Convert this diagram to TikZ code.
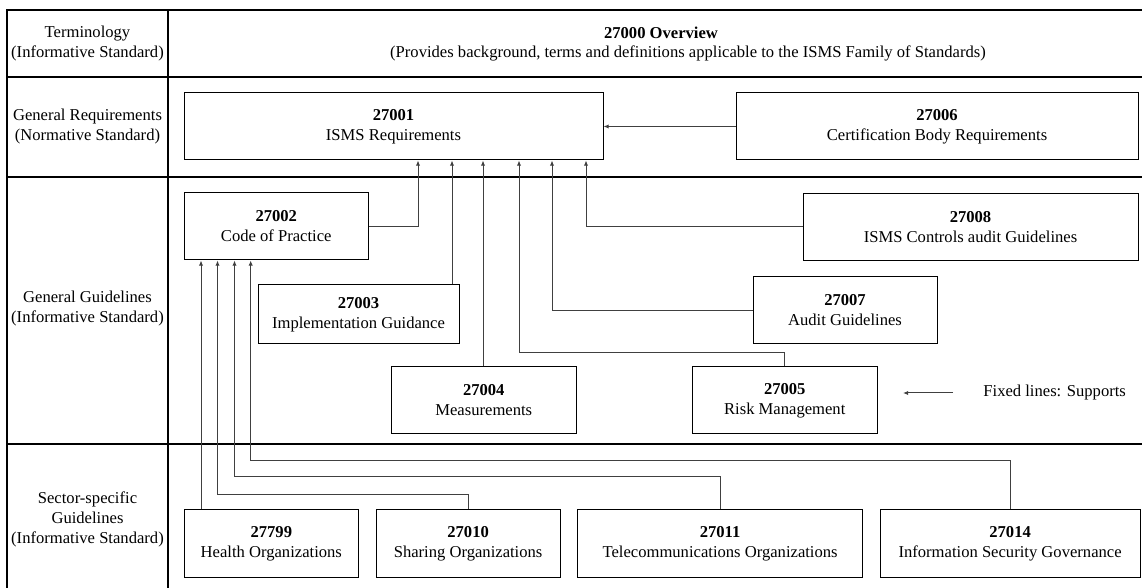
\documentclass[tikz,border=0pt]{standalone}
\usepackage{fontspec}
\setmainfont{Liberation Serif}
\usepackage{tikz}
\usetikzlibrary{positioning,arrows.meta}

\begin{document}
\begin{tikzpicture}[x=0.5pt, y=-0.5pt, node distance=8.25pt,
    every node/.style={font=\fontsize{8.3}{10}\selectfont, align=center, inner sep=0pt},
    stdbox/.style={draw, rectangle, line width=0.5pt, minimum height=33.5pt},
    rowline/.style={line width=0.9pt},
    link/.style={->, draw=black!75, line width=0.5pt},
    >={Latex[length=2.6pt,width=2.2pt]}]
    \useasboundingbox (0,0) rectangle (1142,588);

    % Define the table frame
    \draw[rowline] (1142,10) -- (7,10) -- (7,588);
    \draw[rowline] (168,10) -- (168,588);
    \draw[rowline] (7,77) -- (1142,77);
    \draw[rowline] (7,177) -- (1142,177);
    \draw[rowline] (7,444) -- (1142,444);

    % Define the row labels
    \node (lab1) at (87.5,43.5) {Terminology\\(Informative Standard)};
    \node (lab2) at (87.5,127) {General Requirements\\(Normative Standard)};
    \node (lab3) at (87.5,309) {General Guidelines\\(Informative Standard)};
    \node (lab4) at (87.5,519) {Sector-specific\\Guidelines\\(Informative Standard)};

    % Define the overview
    \node (title) at (661,33) {\textbf{27000 Overview}};
    \node (subtitle) at (688,53) {(Provides background, terms and definitions applicable to the ISMS Family of Standards)};

    % Define the boxes
    \node[stdbox, minimum width=209.5pt] (b27001) at (393.5,126.5) {\textbf{27001}\\ISMS Requirements};
    \node[stdbox, minimum width=201pt] (b27006) at (937,126.5) {\textbf{27006}\\Certification Body Requirements};
    \node[stdbox, minimum width=92.25pt] (b27002) at (276.25,226.5) {\textbf{27002}\\Code of Practice};
    \node[stdbox, minimum width=167.5pt] (b27008) at (970.5,227) {\textbf{27008}\\ISMS Controls audit Guidelines};
    \node[stdbox, minimum width=100.5pt, minimum height=29.5pt] (b27003) at (358.5,314.5) {\textbf{27003}\\Implementation Guidance};
    \node[stdbox, minimum width=92pt] (b27007) at (845,310.5) {\textbf{27007}\\Audit Guidelines};
    \node[stdbox, minimum width=92.25pt] (b27004) at (483.75,400.5) {\textbf{27004}\\Measurements};
    \node[stdbox, minimum width=92.25pt] (b27005) at (784.75,400.5) {\textbf{27005}\\Risk Management};
    \node[stdbox, minimum width=87.3pt] (b27799) at (271.3,543.5) {\textbf{27799}\\Health Organizations};
    \node[stdbox, minimum width=92pt, right=of b27799] (b27010) {\textbf{27010}\\Sharing Organizations};
    \node[stdbox, minimum width=142.5pt, right=of b27010] (b27011) {\textbf{27011}\\Telecommunications Organizations};
    \node[stdbox, minimum width=130pt, right=of b27011] (b27014) {\textbf{27014}\\Information Security Governance};

    % Define the legend
    \node[anchor=west] (legend) at (983,393) {Fixed lines: Supports};
    \coordinate (legtip) at (903,393);

    % Entry points of the arrows
    \coordinate (in1) at ([xshift=12.25pt]b27001.south);
    \coordinate (in2) at ([xshift=29.25pt]b27001.south);
    \coordinate (in3) at ([xshift=44.75pt]b27001.south);
    \coordinate (in4) at ([xshift=62.75pt]b27001.south);
    \coordinate (in5) at ([xshift=79.25pt]b27001.south);
    \coordinate (in6) at ([xshift=96.25pt]b27001.south);
    \coordinate (up1) at ([xshift=-37.625pt]b27002.south);
    \coordinate (up2) at ([xshift=-29.375pt]b27002.south);
    \coordinate (up3) at ([xshift=-20.875pt]b27002.south);
    \coordinate (up4) at ([xshift=-12.775pt]b27002.south);

    % Draw arrows between the boxes
    \draw[link] (b27006.west) -- (b27001.east);
    \draw[link] (b27002.east) -| (in1);
    \draw[link] (in2 |- b27003.north) -- (in2);
    \draw[link] (in3 |- b27004.north) -- (in3);
    \draw[link] (b27005.north) -- ++(0,-14.3) -| (in4);
    \draw[link] (b27007.west) -| (in5);
    \draw[link] (b27008.west) -| (in6);
    \draw[link] (up1 |- b27799.north) -- (up1);
    \draw[link] (b27010.north) -- ++(0,-15) -| (up2);
    \draw[link] (b27011.north) -- ++(0,-32.7) -| (up3);
    \draw[link] (b27014.north) -- ++(0,-49) -| (up4);
    \draw[link] ([xshift=-15pt]legend.west) -- (legtip);
\end{tikzpicture}
\end{document}
